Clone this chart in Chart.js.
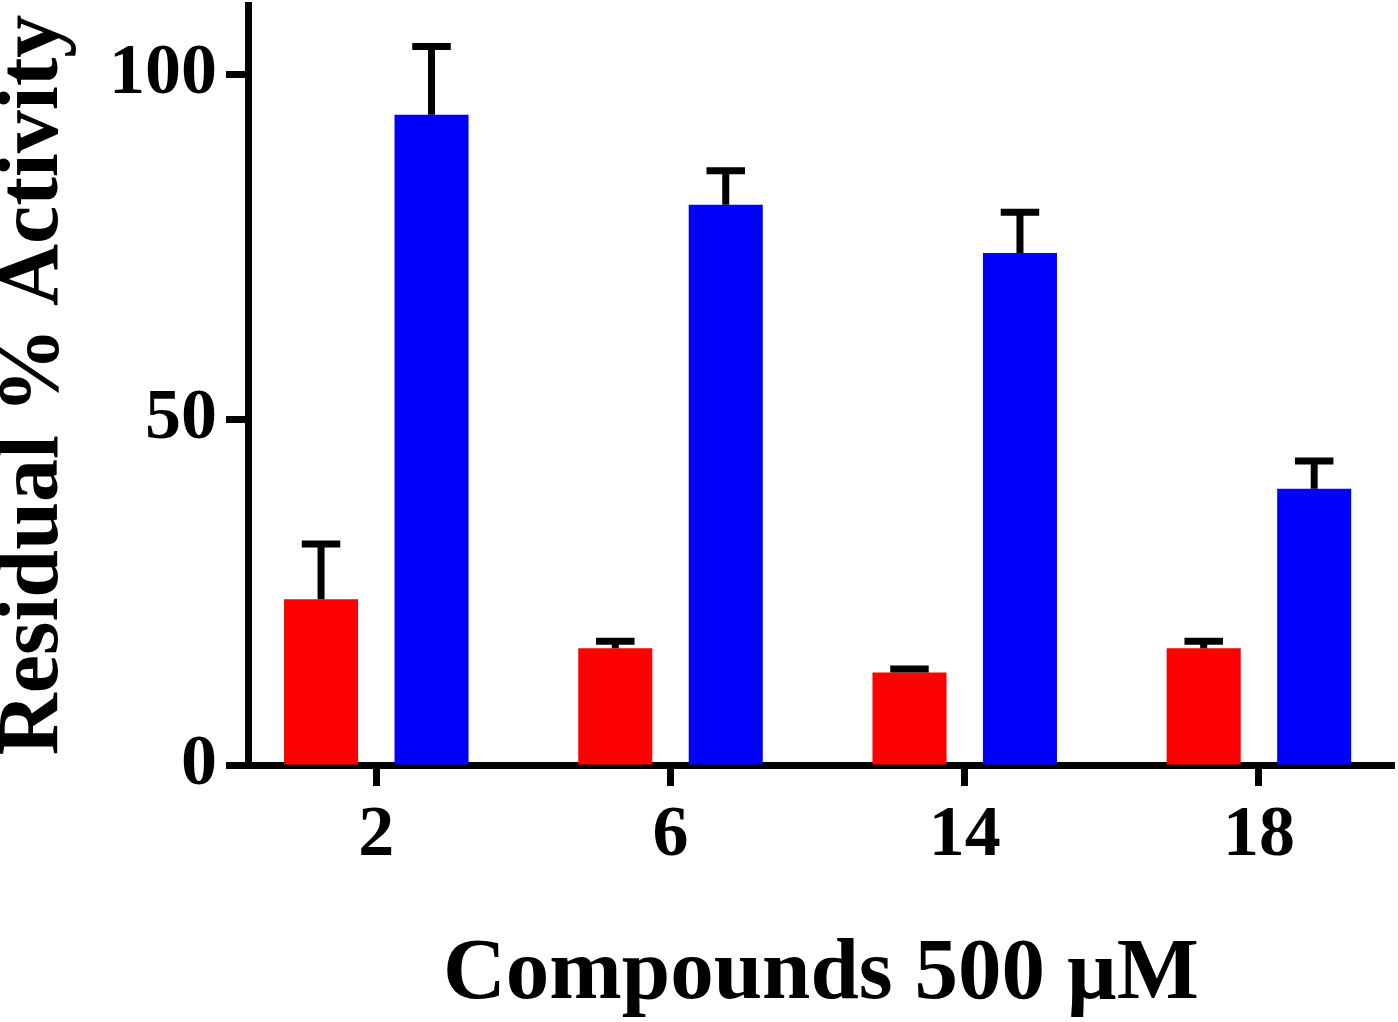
<!DOCTYPE html>
<html>
<head>
<meta charset="utf-8">
<script src="https://cdn.jsdelivr.net/npm/chart.js@4.4.1/dist/chart.umd.min.js"></script>
<style>
  body { margin: 0; background: #fff; overflow: hidden; }
  #box { width: 1398px; height: 1022px; }
</style>
</head>
<body>
<div id="box"><canvas id="myChart"></canvas></div>
<script>
var categories = ['2', '6', '14', '18']
var redValues = [24.0, 16.9, 13.4, 16.9]
var redErrors = [8.0, 1.0, 0.5, 1.0]
var blueValues = [94.1, 81.1, 74.1, 40.0]
var blueErrors = [9.9, 4.9, 5.9, 4.0]
var yTicks = [0, 50, 100]

var serif = 'Liberation Serif, Times New Roman, serif'

// upward-only error bars with a cap
var errorBars = {
  id: 'errorBars',
  afterDatasetsDraw(chart) {
    const ctx = chart.ctx
    const yScale = chart.scales.y
    ctx.save()
    ctx.strokeStyle = '#000'
    ctx.lineWidth = 7
    ctx.lineCap = 'butt'
    chart.data.datasets.forEach((ds, i) => {
      const meta = chart.getDatasetMeta(i)
      meta.data.forEach((bar, j) => {
        const end = yScale.getPixelForValue(ds.data[j].y + ds.errors[j])
        const half = bar.width * 0.26
        ctx.beginPath()
        ctx.moveTo(bar.x, bar.y)
        ctx.lineTo(bar.x, end)
        ctx.moveTo(bar.x - half, end)
        ctx.lineTo(bar.x + half, end)
        ctx.stroke()
      })
    })
    ctx.restore()
  }
}

const ctx = document.getElementById('myChart')
new Chart(ctx, {
  type: 'bar',
  data: {
    datasets: [{
      label: 'red',
      data: redValues.map((v, i) => ({ x: i, y: v })),
      errors: redErrors,
      backgroundColor: '#ff0000'
    }, {
      label: 'blue',
      data: blueValues.map((v, i) => ({ x: i, y: v })),
      errors: blueErrors,
      backgroundColor: '#0000ff'
    }]
  },
  options: {
    responsive: true,
    maintainAspectRatio: false,
    animation: false,
    categoryPercentage: 0.751,
    barPercentage: 0.67,
    layout: { padding: { top: 5, right: 4, left: 0, bottom: 0 } },
    plugins: { legend: { display: false }, tooltip: { enabled: false } },
    scales: {
      x: {
        type: 'linear',
        min: -0.436,
        max: 3.459,
        offset: false,
        z: 1,
        afterBuildTicks: s => { s.ticks = categories.map((c, i) => ({ value: i })) },
        afterFit: s => { s.height = 257; s.paddingLeft = 0; s.paddingRight = 0 },
        grid: { display: true, offset: false, drawOnChartArea: false, tickLength: 21, tickWidth: 7, tickColor: '#000' },
        border: { display: true, width: 7, color: '#000' },
        ticks: {
          padding: 7,
          color: '#000',
          font: { family: serif, size: 72, weight: 'bold' },
          callback: v => categories[v]
        },
        title: {
          display: true,
          text: 'Compounds 500 µM',
          color: '#000',
          font: { family: serif, size: 87, weight: 'bold', lineHeight: 1 },
          padding: { top: 0, bottom: 3 }
        }
      },
      y: {
        min: 0,
        max: 110,
        z: 1,
        afterBuildTicks: s => { s.ticks = yTicks.map(v => ({ value: v })) },
        afterFit: s => { s.width = 248; s.paddingTop = 0; s.paddingBottom = 0 },
        grid: { display: true, drawOnChartArea: false, tickLength: 22, tickWidth: 7, tickColor: '#000' },
        border: { display: true, width: 7, color: '#000' },
        ticks: {
          padding: 9,
          color: '#000',
          font: { family: serif, size: 72, weight: 'bold' }
        },
        title: {
          display: true,
          text: 'Residual % Activity',
          color: '#000',
          font: { family: serif, size: 86, weight: 'bold', lineHeight: 0.8 },
          padding: { top: 0, bottom: 0 }
        }
      }
    }
  },
  plugins: [errorBars]
})
</script>
</body>
</html>
